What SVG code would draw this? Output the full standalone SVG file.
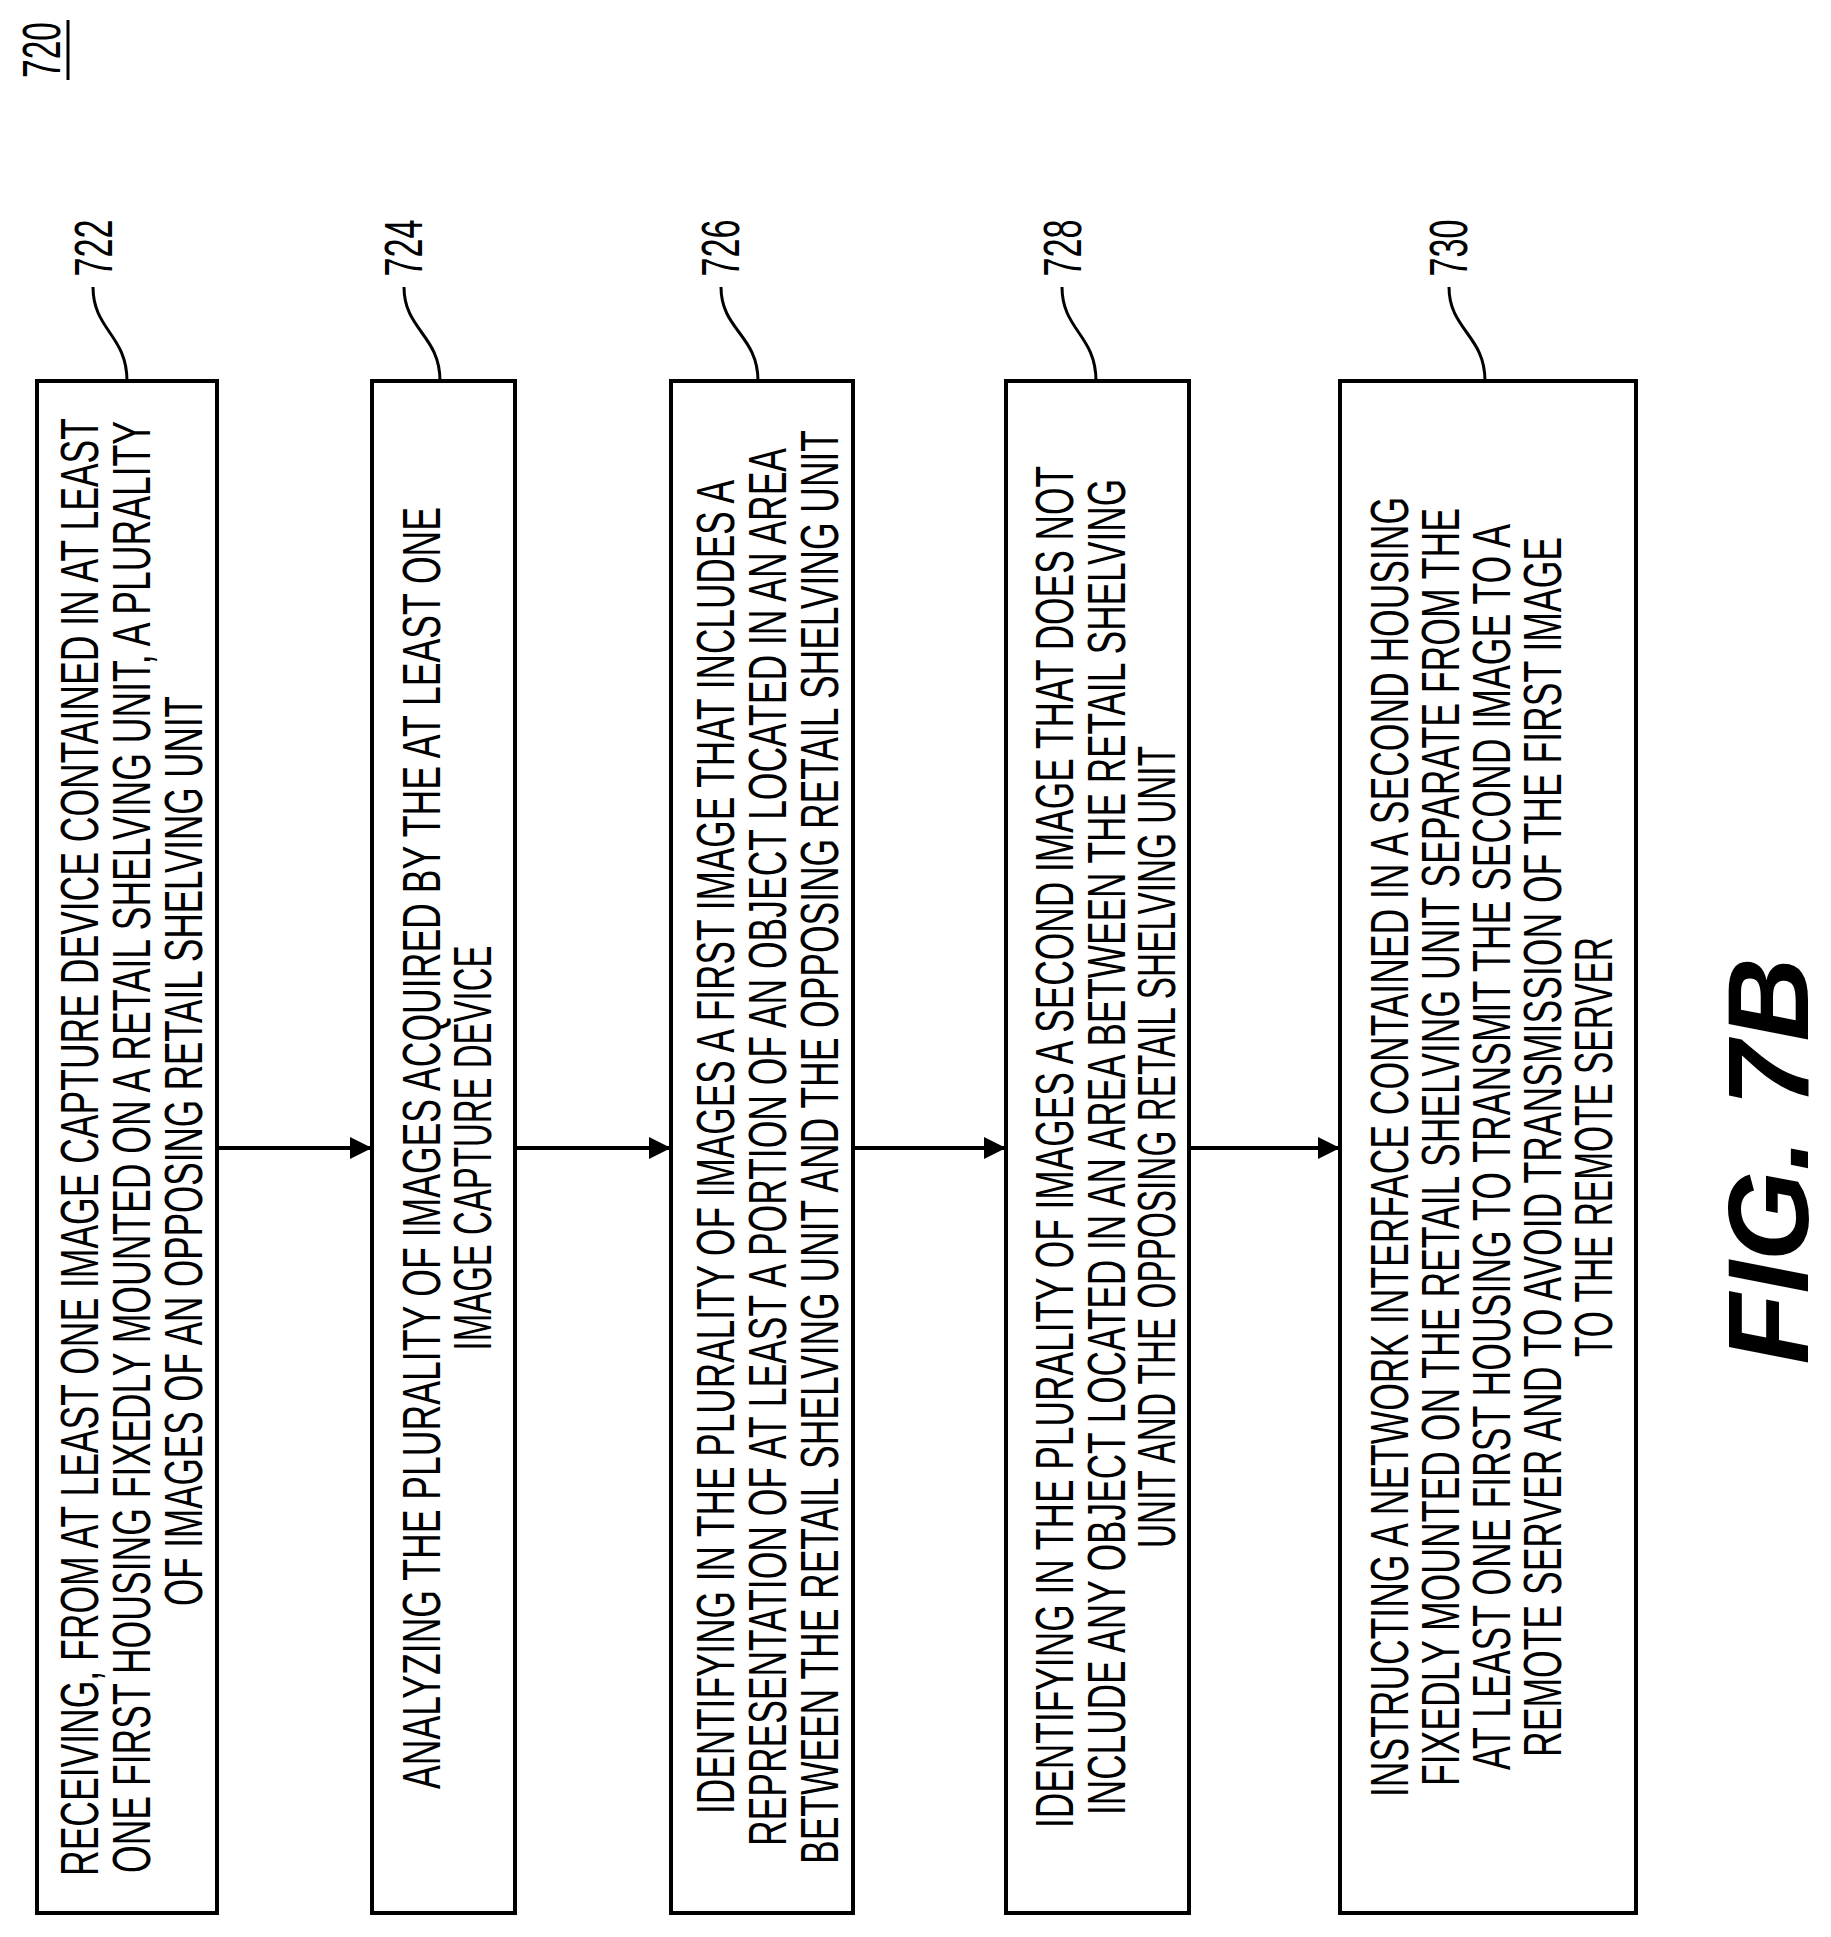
<svg xmlns="http://www.w3.org/2000/svg" width="1831" height="1937" viewBox="0 0 1831 1937">
<style>
.box{fill:#fff;stroke:#000;stroke-width:4}
.t{font-family:"Liberation Sans",Arial,sans-serif;font-size:53px;fill:#000;text-anchor:middle}
.lbl{font-family:"Liberation Sans",Arial,sans-serif;font-size:54px;fill:#000;text-anchor:middle}
.conn{stroke:#000;stroke-width:4;fill:none}
.lead{stroke:#000;stroke-width:3;fill:none}
</style>
<defs>
<marker id="ah" markerWidth="24" markerHeight="22" refX="22" refY="11" orient="auto" markerUnits="userSpaceOnUse">
<path d="M0,0 L22,11 L0,22 Z" fill="#000"/>
</marker>
</defs>
<g id="title">
<text class="lbl" transform="translate(60,50) rotate(-90)" textLength="56" lengthAdjust="spacingAndGlyphs">720</text>
<line x1="68" y1="20" x2="68" y2="80" stroke="#000" stroke-width="3"/>
</g>
<g id="node722">
<rect class="box" x="37" y="381" width="180" height="1532"/>
<text class="t" transform="translate(98,1147) rotate(-90)" textLength="1458" lengthAdjust="spacingAndGlyphs">RECEIVING, FROM AT LEAST ONE IMAGE CAPTURE DEVICE CONTAINED IN AT LEAST</text>
<text class="t" transform="translate(150,1147) rotate(-90)" textLength="1452" lengthAdjust="spacingAndGlyphs">ONE FIRST HOUSING FIXEDLY MOUNTED ON A RETAIL SHELVING UNIT, A PLURALITY</text>
<text class="t" transform="translate(202,1151) rotate(-90)" textLength="910" lengthAdjust="spacingAndGlyphs">OF IMAGES OF AN OPPOSING RETAIL SHELVING UNIT</text>
<text class="lbl" transform="translate(112,248) rotate(-90)" textLength="57" lengthAdjust="spacingAndGlyphs">722</text>
<path class="lead" d="M93,287 C93,330 127,335 127,381"/>
</g>
<g id="node724">
<rect class="box" x="372" y="381" width="143" height="1532"/>
<text class="t" transform="translate(440,1148) rotate(-90)" textLength="1282" lengthAdjust="spacingAndGlyphs">ANALYZING THE PLURALITY OF IMAGES ACQUIRED BY THE AT LEAST ONE</text>
<text class="t" transform="translate(491,1148) rotate(-90)" textLength="405" lengthAdjust="spacingAndGlyphs">IMAGE CAPTURE DEVICE</text>
<text class="lbl" transform="translate(422,248) rotate(-90)" textLength="57" lengthAdjust="spacingAndGlyphs">724</text>
<path class="lead" d="M404,287 C404,330 440,335 440,381"/>
</g>
<g id="node726">
<rect class="box" x="671" y="381" width="182" height="1532"/>
<text class="t" transform="translate(734,1147) rotate(-90)" textLength="1334" lengthAdjust="spacingAndGlyphs">IDENTIFYING IN THE PLURALITY OF IMAGES A FIRST IMAGE THAT INCLUDES A</text>
<text class="t" transform="translate(786,1147) rotate(-90)" textLength="1398" lengthAdjust="spacingAndGlyphs">REPRESENTATION OF AT LEAST A PORTION OF AN OBJECT LOCATED IN AN AREA</text>
<text class="t" transform="translate(838,1147) rotate(-90)" textLength="1434" lengthAdjust="spacingAndGlyphs">BETWEEN THE RETAIL SHELVING UNIT AND THE OPPOSING RETAIL SHELVING UNIT</text>
<text class="lbl" transform="translate(739,248) rotate(-90)" textLength="57" lengthAdjust="spacingAndGlyphs">726</text>
<path class="lead" d="M721,287 C721,330 758,335 758,381"/>
</g>
<g id="node728">
<rect class="box" x="1006" y="381" width="183" height="1532"/>
<text class="t" transform="translate(1073,1147) rotate(-90)" textLength="1362" lengthAdjust="spacingAndGlyphs">IDENTIFYING IN THE PLURALITY OF IMAGES A SECOND IMAGE THAT DOES NOT</text>
<text class="t" transform="translate(1125,1147) rotate(-90)" textLength="1336" lengthAdjust="spacingAndGlyphs">INCLUDE ANY OBJECT LOCATED IN AN AREA BETWEEN THE RETAIL SHELVING</text>
<text class="t" transform="translate(1175,1147) rotate(-90)" textLength="802" lengthAdjust="spacingAndGlyphs">UNIT AND THE OPPOSING RETAIL SHELVING UNIT</text>
<text class="lbl" transform="translate(1081,248) rotate(-90)" textLength="57" lengthAdjust="spacingAndGlyphs">728</text>
<path class="lead" d="M1062,287 C1062,330 1096,335 1096,381"/>
</g>
<g id="node730">
<rect class="box" x="1340" y="381" width="296" height="1532"/>
<text class="t" transform="translate(1408,1147) rotate(-90)" textLength="1300" lengthAdjust="spacingAndGlyphs">INSTRUCTING A NETWORK INTERFACE CONTAINED IN A SECOND HOUSING</text>
<text class="t" transform="translate(1459,1147) rotate(-90)" textLength="1278" lengthAdjust="spacingAndGlyphs">FIXEDLY MOUNTED ON THE RETAIL SHELVING UNIT SEPARATE FROM THE</text>
<text class="t" transform="translate(1510,1147) rotate(-90)" textLength="1246" lengthAdjust="spacingAndGlyphs">AT LEAST ONE FIRST HOUSING TO TRANSMIT THE SECOND IMAGE TO A</text>
<text class="t" transform="translate(1561,1147) rotate(-90)" textLength="1220" lengthAdjust="spacingAndGlyphs">REMOTE SERVER AND TO AVOID TRANSMISSION OF THE FIRST IMAGE</text>
<text class="t" transform="translate(1612,1147) rotate(-90)" textLength="420" lengthAdjust="spacingAndGlyphs">TO THE REMOTE SERVER</text>
<text class="lbl" transform="translate(1467,248) rotate(-90)" textLength="57" lengthAdjust="spacingAndGlyphs">730</text>
<path class="lead" d="M1449,287 C1449,330 1485,335 1485,381"/>
</g>
<g id="connectors">
<line class="conn" x1="217" y1="1148" x2="372" y2="1148" marker-end="url(#ah)"/>
<line class="conn" x1="515" y1="1148" x2="671" y2="1148" marker-end="url(#ah)"/>
<line class="conn" x1="853" y1="1148" x2="1006" y2="1148" marker-end="url(#ah)"/>
<line class="conn" x1="1189" y1="1148" x2="1340" y2="1148" marker-end="url(#ah)"/>
</g>
<g id="figlabel">
<text transform="translate(1808,1161) rotate(-90)" font-family="Liberation Sans, Arial, sans-serif" font-size="115" font-weight="bold" font-style="italic" text-anchor="middle" textLength="407" lengthAdjust="spacingAndGlyphs">FIG. 7B</text>
</g>
</svg>
